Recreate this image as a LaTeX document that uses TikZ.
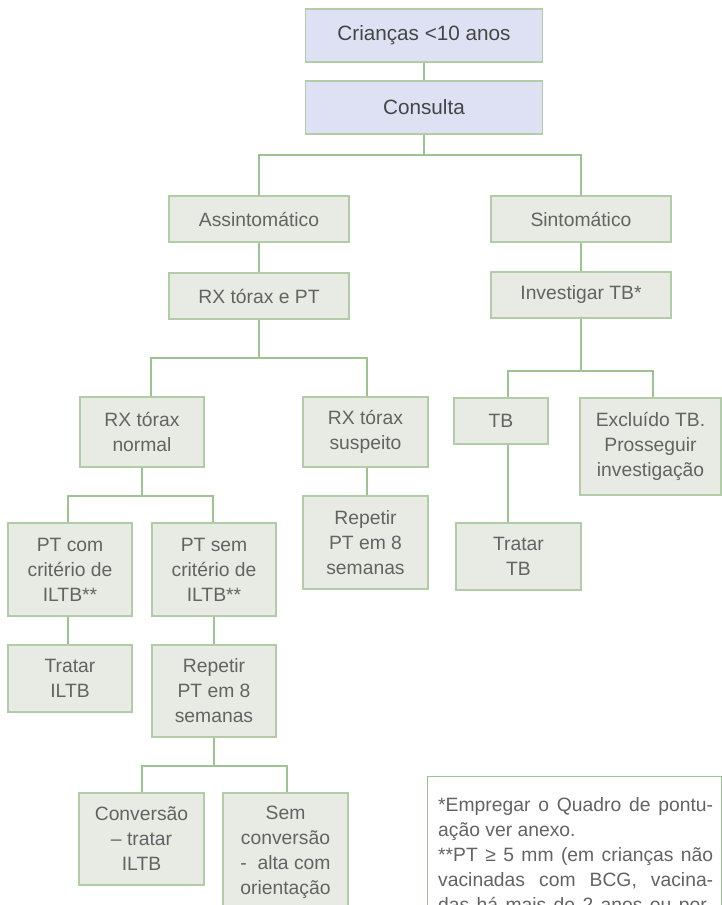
\documentclass[tikz,border=0pt]{standalone}
\usepackage{fontspec}
\setmainfont{Liberation Sans}
\definecolor{boxfill}{HTML}{E8EBE4}
\definecolor{headfill}{HTML}{DDE1F3}
\definecolor{boxedge}{HTML}{B2CCA8}
\definecolor{linkc}{HTML}{9CC391}
\definecolor{boxtext}{HTML}{636363}
\definecolor{headtext}{HTML}{454545}
\begin{document}
\begin{tikzpicture}[x=1pt,y=-1pt,
  box/.style={draw=boxedge, fill=boxfill, line width=1.1pt, inner sep=0pt,
    align=center, text=boxtext, font=\fontsize{19.3}{25}\selectfont},
  headbox/.style={box, fill=headfill, text=headtext, font=\fontsize{20.7}{25}\selectfont},
  link/.style={draw=linkc, line width=1.2pt},
  notebox/.style={draw=linkc, fill=white, line width=1.1pt, inner sep=0pt},
]
\useasboundingbox (0,0) rectangle (722,905);
\clip (0,0) rectangle (722,905);
\fill[white] (0,0) rectangle (722,905);

% top of the flow
\node[headbox, minimum width=237pt, minimum height=53pt] (crian) at (424,35.5) {Crianças <10 anos};
\node[headbox, minimum width=237pt, minimum height=53pt] (consulta) at (424,107.5) {Consulta};

% first split
\node[box, minimum width=180pt, minimum height=46pt] (assint) at (259,219) {Assintomático};
\node[box, minimum width=180pt, minimum height=46pt] (sint) at (581,219) {Sintomático};
\node[box, minimum width=180pt, minimum height=46pt] (rxpt) at (259,296) {RX tórax e PT};
\node[box, minimum width=180pt, minimum height=46pt] (invest) at (581,295) {Investigar TB*};

% asymptomatic branch
\node[box, minimum width=124pt, minimum height=70pt] (rxnorm) at (142,432) {RX tórax\\normal};
\node[box, minimum width=125pt, minimum height=70pt] (rxsusp) at (365.5,432) {RX tórax\\suspeito};
\node[box, minimum width=125pt, minimum height=93pt] (rep1) at (365.5,542.5) {Repetir\\PT em 8\\semanas};
\node[box, minimum width=124pt, minimum height=93pt] (ptcom) at (70,569.5) {PT com\\critério de\\ILTB**};
\node[box, minimum width=124pt, minimum height=93pt] (ptsem) at (214,569.5) {PT sem\\critério de\\ILTB**};
\node[box, minimum width=124pt, minimum height=67pt] (tratiltb) at (70,678.5) {Tratar\\ILTB};
\node[box, minimum width=124pt, minimum height=92pt] (rep2) at (214,691) {Repetir\\PT em 8\\semanas};
\node[box, minimum width=125pt, minimum height=92pt] (conv) at (141.5,839) {Conversão\\– tratar\\ILTB};
\node[box, minimum width=125pt, minimum height=118pt] (semconv) at (285.5,852) {Sem\\conversão\\-\ \ alta com\\orientação};

% symptomatic branch
\node[box, minimum width=94pt, minimum height=46pt] (tb) at (501,421) {TB};
\node[box, minimum width=141pt, minimum height=97pt] (excl) at (650.5,446.5) {Excluído TB.\\Prosseguir\\investigação};
\node[box, minimum width=125pt, minimum height=67pt] (trattb) at (518.5,556.5) {Tratar\\TB};

% junction points of the branching connectors
\coordinate (j1) at (424,155);
\coordinate (j2l) at (151,358);
\coordinate (j2r) at (367,358);
\coordinate (j3l) at (508,371);
\coordinate (j3r) at (653,371);
\coordinate (j4l) at (68,496);
\coordinate (j4r) at (213,496);
\coordinate (j5l) at (142,766);
\coordinate (j5r) at (287,766);

% connectors
\draw[link] (crian) -- (consulta);
\draw[link] (consulta.south) -- (j1) -| (assint.north);
\draw[link] (j1) -| (sint.north);
\draw[link] (assint) -- (rxpt);
\draw[link] (sint) -- (invest);

\draw[link] (rxpt.south) |- (j2l) -- (j2l |- rxnorm.north);
\draw[link] (rxpt.south) |- (j2r) -- (j2r |- rxsusp.north);
\draw[link] (j2r |- rxsusp.south) -- (j2r |- rep1.north);

\draw[link] (invest.south) |- (j3l) -- (j3l |- tb.north);
\draw[link] (invest.south) |- (j3r) -- (j3r |- excl.north);
\draw[link] (j3l |- tb.south) -- (j3l |- trattb.north);

\draw[link] (rxnorm.south) |- (j4l) -- (j4l |- ptcom.north);
\draw[link] (rxnorm.south) |- (j4r) -- (j4r |- ptsem.north);
\draw[link] (j4l |- ptcom.south) -- (j4l |- tratiltb.north);
\draw[link] (ptsem) -- (rep2);

\draw[link] (rep2.south) |- (j5l) -- (j5l |- conv.north);
\draw[link] (rep2.south) |- (j5r) -- (j5r |- semconv.north);

% footnote panel
\node[notebox, anchor=north west, minimum width=294pt, minimum height=170pt] (note) at (427,776) {};
\node[anchor=north west, inner sep=0pt, align=left, text=boxtext,
      font=\fontsize{19.3}{25}\selectfont] (notetext) at (438,797)
  {\makebox[275pt][s]{*Empregar o Quadro de pontu-}\\
   ação ver anexo.\\
   \makebox[275pt][s]{**PT ≥ 5 mm (em crianças não}\\
   \makebox[275pt][s]{vacinadas com BCG, vacina-}\\
   \makebox[275pt][s]{das há mais de 2 anos ou por-}};
\end{tikzpicture}
\end{document}
